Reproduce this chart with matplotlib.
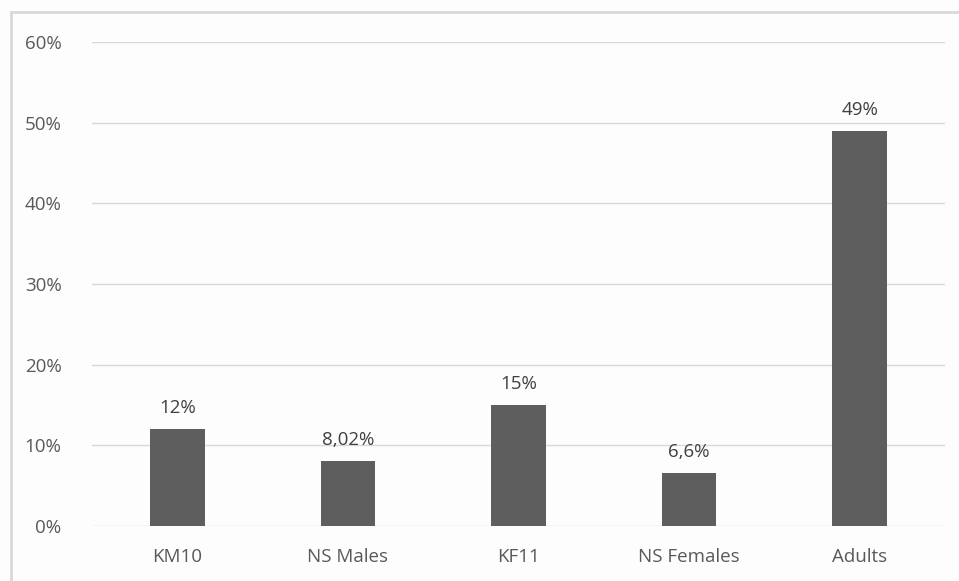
import matplotlib
matplotlib.use("Agg")
import matplotlib.pyplot as plt
from matplotlib.lines import Line2D

categories = ["KM10", "NS Males", "KF11", "NS Females", "Adults"]
values = [12, 8.02, 15, 6.6, 49]
value_labels = ["12%", "8,02%", "15%", "6,6%", "49%"]
yticks = [0, 10, 20, 30, 40, 50, 60]
ytick_labels = ["0%", "10%", "20%", "30%", "40%", "50%", "60%"]

plt.rcParams['font.family'] = ['Open Sans', 'DejaVu Sans']
W, H = 959, 581
fig = plt.figure(figsize=(W/100, H/100), dpi=100)
fig.patch.set_facecolor('#fdfdfd')
ax = fig.add_axes([92/W, 1-526/H, (945-92)/W, (526-42)/H])
ax.set_facecolor('#fdfdfd')

x = range(len(categories))
ax.bar(x, values, width=0.32, color='#5e5e5e', zorder=3)
for xi, v, lab in zip(x, values, value_labels):
    ax.text(xi, v + 1.5, lab, ha='center', va='bottom', fontsize=13.5, color='#404040')

ax.set_xlim(-0.5, len(categories) - 0.5)
ax.set_ylim(0, 60)
ax.set_yticks(yticks)
ax.set_yticklabels(ytick_labels)
ax.set_xticks(list(x))
ax.set_xticklabels(categories)
ax.tick_params(axis='both', length=0, labelsize=13.5, labelcolor='#595959')
ax.tick_params(axis='y', pad=22)
ax.tick_params(axis='x', pad=16)
ax.grid(axis='y', color='#d9d9d9', linewidth=1, zorder=0)
for s in ax.spines.values():
    s.set_visible(False)

fig.add_artist(Line2D([11/W, 11/W], [0, 1-12/H], color='#d9d9d9', linewidth=2, transform=fig.transFigure))
fig.add_artist(Line2D([11/W, 1], [1-12/H, 1-12/H], color='#d9d9d9', linewidth=2, transform=fig.transFigure))

fig.savefig('out.png', dpi=100, facecolor=fig.get_facecolor())
